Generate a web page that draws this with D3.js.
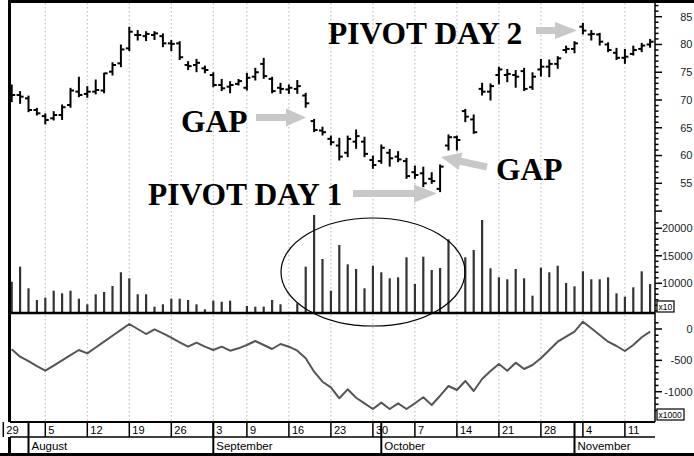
<!DOCTYPE html>
<html><head><meta charset="utf-8">
<script src="https://cdn.jsdelivr.net/npm/d3@7"></script>
<style>body{margin:0;background:#fff}svg{display:block}</style>
</head><body>
<svg id="c" width="694" height="456"></svg>
<script>
// ---------- data ----------
const dates = [
 "2002-07-30","2002-07-31",
 "2002-08-01","2002-08-02","2002-08-05","2002-08-06","2002-08-07","2002-08-08","2002-08-09",
 "2002-08-12","2002-08-13","2002-08-14","2002-08-15","2002-08-16","2002-08-19","2002-08-20",
 "2002-08-21","2002-08-22","2002-08-23","2002-08-26","2002-08-27","2002-08-28","2002-08-29","2002-08-30",
 "2002-09-03","2002-09-04","2002-09-05","2002-09-06","2002-09-09","2002-09-10","2002-09-11","2002-09-12",
 "2002-09-13","2002-09-16","2002-09-17","2002-09-18","2002-09-19","2002-09-20","2002-09-23","2002-09-24",
 "2002-09-25","2002-09-26","2002-09-27","2002-09-30",
 "2002-10-01","2002-10-02","2002-10-03","2002-10-04","2002-10-07","2002-10-08","2002-10-09","2002-10-10",
 "2002-10-11","2002-10-14","2002-10-15","2002-10-16","2002-10-17","2002-10-18","2002-10-21","2002-10-22",
 "2002-10-23","2002-10-24","2002-10-25","2002-10-28","2002-10-29","2002-10-30","2002-10-31",
 "2002-11-01","2002-11-04","2002-11-05","2002-11-06","2002-11-07","2002-11-08","2002-11-11","2002-11-12",
 "2002-11-13","2002-11-14"];
const openP = [71.5,70.9,70.3,68.2,67.1,66.7,67.3,69.1,71.5,71.1,71.5,71.7,75.1,76.6,79.3,81.7,81.5,81.7,81.5,80.2,
 80.2,76.3,76.3,75.7,74.5,72.7,72.4,72.9,72.2,74.2,76.5,73.8,72.2,71.9,72.0,70.8,66.2,64.5,63.0,61.8,
 60.5,62.5,62.5,59.2,59.0,60.5,59.8,59.0,57.0,56.8,55.8,54.0,61.8,63.3,68.0,66.5,72.0,71.5,74.5,74.5,
 74.5,75.2,72.3,75.5,76.0,76.5,79.0,79.2,83.2,81.8,81.8,80.0,78.5,77.6,78.3,79.2,80.0];
const highP = [72.7,71.5,70.7,68.5,67.5,67.9,69.1,72.1,74.1,72.4,73.6,74.8,76.7,79.9,83.1,82.5,82.3,82.3,81.9,80.7,
 80.5,76.9,77.3,76.1,74.9,73.7,73.3,73.7,74.8,75.7,77.5,74.1,73.0,72.7,73.5,71.2,66.5,65.1,63.5,63.1,
 63.5,64.6,63.3,59.9,61.9,61.1,60.7,59.5,58.1,57.9,56.9,58.3,63.7,63.5,68.3,67.3,73.0,72.9,75.9,75.5,
 75.3,75.7,74.9,77.3,77.2,77.8,79.7,80.5,83.8,82.5,82.0,80.3,79.3,79.1,79.7,80.2,80.9];
const lowP = [69.7,69.4,67.9,67.3,65.7,66.4,66.5,68.7,70.6,70.5,71.1,71.3,74.5,76.0,78.9,80.8,80.7,80.9,79.6,78.9,
 77.3,75.5,75.1,74.9,72.4,71.7,71.3,72.7,71.8,73.6,73.9,71.3,71.2,71.2,71.2,68.7,64.3,63.7,61.9,59.2,
 59.8,61.3,59.8,57.7,58.6,58.1,58.9,55.9,55.9,54.4,55.0,53.5,61.0,61.0,66.1,64.0,70.9,70.0,72.9,73.3,
 72.3,71.7,71.9,74.3,74.2,75.7,78.5,78.5,81.9,80.8,79.9,78.7,77.3,76.6,78.1,78.7,79.5];
const closeP = [70.9,70.6,68.2,67.6,66.4,67.3,68.7,71.7,70.9,71.5,71.8,74.8,76.3,79.1,82.3,81.7,81.9,82.0,80.2,80.1,
 77.7,76.1,76.7,75.4,72.7,72.1,72.7,73.4,74.0,75.0,74.3,71.6,72.0,72.2,72.5,69.4,64.6,64.2,62.4,59.8,
 63.0,63.5,60.3,58.3,61.4,59.5,59.3,56.3,56.5,55.0,55.4,58.0,63.3,62.8,67.0,64.2,71.5,72.5,75.5,74.7,
 74.2,72.0,74.2,76.0,76.5,77.5,79.2,80.2,82.5,81.9,80.5,79.0,77.6,77.8,79.0,79.8,80.5];
const volume = [10290,13020,9090,6960,7380,8650,8180,8650,7200,6180,8000,8420,9510,12000,10910,8000,8000,5750,6180,7200,
 7200,6960,6180,5270,6840,6650,6840,null,5870,5750,5750,6960,6180,null,6360,13020,22420,14420,8650,16960,
 13450,12600,9090,13200,12000,10910,11090,14730,9870,14840,12420,12780,18000,null,14730,16050,21510,12730,11090,10730,
 12600,10910,7750,12840,12000,13200,10050,9450,12180,10730,10730,11090,8180,7560,9270,12180,9870];
const oscillator = [-324,-442,-514,-592,-665,-584,-502,-416,-335,-388,-295,-201,-107,-14,80,0,-80,-5,-69,-139,
 -212,-282,-218,-282,-335,-282,-346,-308,-255,-191,-255,-319,-239,-282,-346,-467,-681,-841,-930,-1105,
 -962,-1096,-1185,-1276,-1175,-1276,-1185,-1276,-1185,-1089,-1212,-1064,-909,-973,-829,-989,-797,-670,-558,-665,
 -537,-638,-574,-467,-335,-203,-123,-43,116,11,-96,-203,-271,-351,-255,-132,-43];
const weekTicks = ["2002-07-29","2002-08-05","2002-08-12","2002-08-19","2002-08-26","2002-09-03","2002-09-09",
 "2002-09-16","2002-09-23","2002-09-30","2002-10-07","2002-10-14","2002-10-21","2002-10-28","2002-11-04","2002-11-11"];
const dayLabels = ["29","5","12","19","26","3","9","16","23","30","7","14","21","28","4","11"];
const monthStarts = ["2002-08-01","2002-09-03","2002-10-01","2002-11-01"];
const monthLabels = ["August","September","October","November"];
const priceTicks = [55,60,65,70,75,80,85];
const volTicks = [10000,15000,20000];
const oscTicks = [0,-500,-1000];

// ---------- scales ----------
const svg = d3.select("#c");
const x = d3.scalePoint().domain(dates).range([11.7, 650.1]);
const step = x.step();
const pos = d => dates.includes(d) ? x(d) : x(dates[0]) - step;
const yP = d3.scaleLinear().domain([55,85]).range([183.3,16.7]);
const yV = d3.scaleLinear().domain([4600,20000]).range([313,228.3]);
const yO = d3.scaleLinear().domain([-1000,0]).range([391.7,329]);
const AX = 655, FONT = "'Liberation Sans', Arial, sans-serif";

svg.append("rect").attr("width",694).attr("height",456).attr("fill","#fff");

// gridlines
svg.append("g").selectAll("line").data(weekTicks.filter(d => pos(d) > 11)).join("line")
  .attr("x1", d => pos(d)).attr("x2", d => pos(d)).attr("y1", 3).attr("y2", 422)
  .attr("stroke", "#b4b4b4").attr("stroke-width", 1).attr("stroke-dasharray", "1.5,2.5");

// volume
const vIdx = d3.range(dates.length).filter(i => volume[i] != null);
svg.append("g").selectAll("line").data(vIdx).join("line")
  .attr("x1", i => x(dates[i])).attr("x2", i => x(dates[i]))
  .attr("y1", yV(4600)).attr("y2", i => yV(volume[i]))
  .attr("stroke", "#333").attr("stroke-width", 2.2);

// price OHLC
const gP = svg.append("g").attr("stroke", "#000").attr("stroke-width", 2);
dates.forEach((d, i) => {
  const cx = x(d);
  gP.append("line").attr("x1", cx).attr("x2", cx).attr("y1", yP(highP[i]) - 0.5).attr("y2", yP(lowP[i]) + 0.5);
  gP.append("line").attr("x1", cx - 3.5).attr("x2", cx).attr("y1", yP(openP[i])).attr("y2", yP(openP[i]));
  gP.append("line").attr("x1", cx).attr("x2", cx + 3.5).attr("y1", yP(closeP[i])).attr("y2", yP(closeP[i]));
});

// oscillator
svg.append("path").datum(oscillator)
  .attr("d", d3.line().x((v, i) => x(dates[i])).y(v => yO(v)))
  .attr("fill", "none").attr("stroke", "#555").attr("stroke-width", 2).attr("stroke-linejoin", "round");

// ellipse
svg.append("ellipse").attr("cx", 373).attr("cy", 272).attr("rx", 92).attr("ry", 54)
  .attr("fill", "none").attr("stroke", "#000").attr("stroke-width", 1.2);

// panel lines
svg.append("line").attr("x1", 10).attr("x2", AX).attr("y1", 313).attr("y2", 313).attr("stroke", "#000").attr("stroke-width", 2.5);
svg.append("line").attr("x1", 10).attr("x2", AX).attr("y1", 422).attr("y2", 422).attr("stroke", "#000").attr("stroke-width", 2);
svg.append("line").attr("x1", 10).attr("x2", AX).attr("y1", 437).attr("y2", 437).attr("stroke", "#000").attr("stroke-width", 1.5);

// right axis
svg.append("line").attr("x1", AX).attr("x2", AX).attr("y1", 3).attr("y2", 422).attr("stroke", "#000").attr("stroke-width", 1.5);
const ticksG = svg.append("g").attr("stroke", "#000").attr("stroke-width", 1.5);
d3.range(50, 88).forEach(v => {
  const y = yP(v); const maj = v % 5 === 0;
  ticksG.append("line").attr("x1", AX).attr("x2", AX + (maj ? 7 : 3.5)).attr("y1", y).attr("y2", y);
});
d3.range(5000, 22000, 1000).forEach(v => {
  const y = yV(v); const maj = v % 5000 === 0;
  ticksG.append("line").attr("x1", AX).attr("x2", AX + (maj ? 7 : 3.5)).attr("y1", y).attr("y2", y);
});
d3.range(-1300, 200, 100).forEach(v => {
  const y = yO(v); if (y > 420 || y < 315) return; const maj = v % 500 === 0;
  ticksG.append("line").attr("x1", AX).attr("x2", AX + (maj ? 7 : 3.5)).attr("y1", y).attr("y2", y);
});
const lab = (arr, sc) => svg.append("g").selectAll("text").data(arr).join("text")
  .attr("x", 692.5).attr("y", d => sc(d)).attr("dy", "0.36em").attr("text-anchor", "end")
  .attr("font-family", FONT).attr("font-size", 11).attr("fill", "#222").text(d => d);
lab(priceTicks, yP); lab(volTicks, yV); lab(oscTicks, yO);

// multiplier boxes
[["x10", 301, 17], ["x1000", 409, 27]].forEach(([t, y, w]) => {
  svg.append("rect").attr("x", 657).attr("y", y).attr("width", w).attr("height", 11)
    .attr("fill", "#fff").attr("stroke", "#000").attr("stroke-width", 1.2);
  svg.append("text").attr("x", 658.5).attr("y", y + 8.8).attr("font-family", FONT)
    .attr("font-size", 8.5).attr("fill", "#000").text(t);
});

// bottom axis
svg.append("g").selectAll("line").data(weekTicks).join("line")
  .attr("x1", d => pos(d)).attr("x2", d => pos(d)).attr("y1", 422).attr("y2", 437)
  .attr("stroke", "#000").attr("stroke-width", 1.5);
svg.append("g").selectAll("text").data(weekTicks).join("text")
  .attr("x", d => pos(d) + 3).attr("y", 434).attr("font-family", FONT).attr("font-size", 11)
  .attr("fill", "#000").text((d, i) => dayLabels[i]);
svg.append("g").selectAll("line").data(monthStarts).join("line")
  .attr("x1", d => x(d)).attr("x2", d => x(d)).attr("y1", 422).attr("y2", 453)
  .attr("stroke", "#000").attr("stroke-width", 2);
svg.append("g").selectAll("text").data(monthStarts).join("text")
  .attr("x", d => x(d) + 3).attr("y", 450).attr("font-family", FONT).attr("font-size", 11.5)
  .attr("fill", "#000").text((d, i) => monthLabels[i]);

// borders
svg.append("rect").attr("x", 8).attr("y", 0).attr("width", 686).attr("height", 3).attr("fill", "#000");
svg.append("rect").attr("x", 0).attr("y", 453).attr("width", 694).attr("height", 3).attr("fill", "#000");
svg.append("rect").attr("x", 8).attr("y", 0).attr("width", 3).attr("height", 422).attr("fill", "#000");
svg.append("rect").attr("x", 8).attr("y", 437).attr("width", 3).attr("height", 19).attr("fill", "#000");

// annotations
function arrow(x1, y1, x2, y2, sw, hw, hl) {
  const a = Math.atan2(y2 - y1, x2 - x1), L = Math.hypot(x2 - x1, y2 - y1);
  const pts = [[0, -sw/2], [L - hl, -sw/2], [L - hl, -hw/2], [L, 0], [L - hl, hw/2], [L - hl, sw/2], [0, sw/2]];
  svg.append("polygon").attr("fill", "#c8c8c8")
    .attr("points", pts.map(([u, v]) => [x1 + u*Math.cos(a) - v*Math.sin(a), y1 + u*Math.sin(a) + v*Math.cos(a)].join(",")).join(" "));
}
arrow(256, 117.5, 306, 117.5, 7, 18, 20);
arrow(353, 193.5, 437, 193.5, 7, 18, 23);
arrow(487, 167, 441, 157, 7, 18, 20);
arrow(536, 30.5, 577, 30.5, 7, 17, 22);
const ann = [["PIVOT DAY 2", 328, 44], ["GAP", 181, 132], ["PIVOT DAY 1", 148, 204.5], ["GAP", 496, 180]];
svg.append("g").selectAll("text").data(ann).join("text")
  .attr("x", d => d[1]).attr("y", d => d[2]).attr("font-family", "'Liberation Serif', 'Times New Roman', serif")
  .attr("font-weight", "bold").attr("font-size", 31.5).attr("fill", "#000").text(d => d[0]);
</script>
</body></html>
